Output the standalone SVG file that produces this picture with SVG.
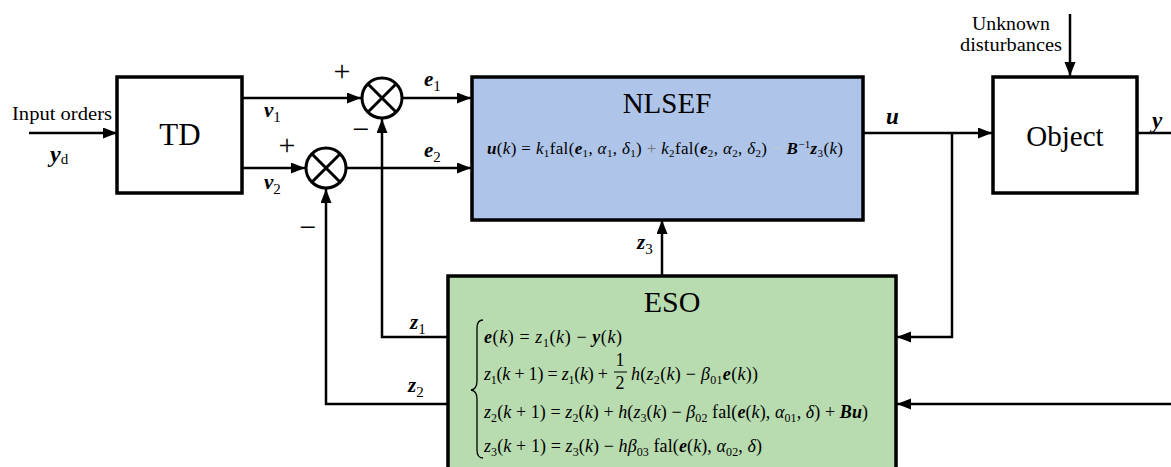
<svg xmlns="http://www.w3.org/2000/svg" width="1171" height="467" viewBox="0 0 1171 467" font-family="'Liberation Serif', 'Times New Roman', serif">
<style>
text{font-family:'Liberation Serif','Times New Roman',serif;fill:#000}
.box{stroke:#000;stroke-width:3.5}
.ln{fill:none;stroke:#000;stroke-width:2.5}
.sum{fill:#fff;stroke:#000;stroke-width:3}
.i{font-style:italic}
.bi{font-style:italic;font-weight:bold}
.lab{font-size:21px}
.eq{font-size:18px}
.s{font-size:12px}
.title{text-anchor:middle}
</style>
<defs>
<marker id="ar" markerUnits="userSpaceOnUse" markerWidth="15" markerHeight="12" refX="14" refY="5.5" orient="auto">
<path d="M0,0 L14,5.5 L0,11 z" fill="#000"/>
</marker>
</defs>
<rect width="1171" height="467" fill="#fff"/>

<g id="connectors">
<line class="ln" x1="29" y1="133" x2="117" y2="133" marker-end="url(#ar)"/>
<line class="ln" x1="242" y1="98" x2="361" y2="98" marker-end="url(#ar)"/>
<line class="ln" x1="242" y1="168" x2="305" y2="168" marker-end="url(#ar)"/>
<line class="ln" x1="403" y1="98" x2="471" y2="98" marker-end="url(#ar)"/>
<line class="ln" x1="347" y1="168" x2="471" y2="168" marker-end="url(#ar)"/>
<polyline class="ln" points="448,337 382,337 382,119" marker-end="url(#ar)"/>
<polyline class="ln" points="448,404 326,404 326,189" marker-end="url(#ar)"/>
<line class="ln" x1="662" y1="276" x2="662" y2="220" marker-end="url(#ar)"/>
<line class="ln" x1="863" y1="133" x2="992" y2="133" marker-end="url(#ar)"/>
<polyline class="ln" points="952,133 952,337 897,337" marker-end="url(#ar)"/>
<line class="ln" x1="1137" y1="133" x2="1171" y2="133"/>
<line class="ln" x1="1171" y1="404" x2="897" y2="404" marker-end="url(#ar)"/>
<line class="ln" x1="1070" y1="14" x2="1070" y2="76" marker-end="url(#ar)"/>
</g>

<g id="td">
<rect class="box" x="117" y="77" width="125" height="116" fill="#fff"/>
<text x="180" y="145" class="title" font-size="31">TD</text>
</g>

<g id="sum1">
<circle class="sum" cx="382" cy="98" r="20"/>
<path d="M368,84 L396,112 M396,84 L368,112" stroke="#000" stroke-width="3"/>
</g>
<g id="sum2">
<circle class="sum" cx="326" cy="168" r="20"/>
<path d="M312,154 L340,182 M340,154 L312,182" stroke="#000" stroke-width="3"/>
</g>

<g id="nlsef">
<rect class="box" x="472" y="77" width="391" height="143" fill="#aec4e9"/>
<text x="667" y="113" class="title" font-size="29">NLSEF</text>
<text x="487" y="154" font-size="17" textLength="356" lengthAdjust="spacing"><tspan class="bi">u</tspan>(<tspan class="i">k</tspan>) = <tspan class="i">k</tspan><tspan font-size="11" dy="3">1</tspan><tspan dy="-3">fal(</tspan><tspan class="bi">e</tspan><tspan font-size="11" dy="3">1</tspan><tspan dy="-3">, </tspan><tspan class="i">α</tspan><tspan font-size="11" dy="3">1</tspan><tspan dy="-3">, </tspan><tspan class="i">δ</tspan><tspan font-size="11" dy="3">1</tspan><tspan dy="-3">) </tspan><tspan fill="#777">+</tspan> <tspan class="i">k</tspan><tspan font-size="11" dy="3">2</tspan><tspan dy="-3">fal(</tspan><tspan class="bi">e</tspan><tspan font-size="11" dy="3">2</tspan><tspan dy="-3">, </tspan><tspan class="i">α</tspan><tspan font-size="11" dy="3">2</tspan><tspan dy="-3">, </tspan><tspan class="i">δ</tspan><tspan font-size="11" dy="3">2</tspan><tspan dy="-3">)  </tspan><tspan fill="#ccc">−</tspan>  <tspan class="bi">B</tspan><tspan font-size="11" dy="-6">−1</tspan><tspan class="bi" dy="6">z</tspan><tspan font-size="11" dy="3">3</tspan><tspan dy="-3">(</tspan><tspan class="i">k</tspan>)</text>
</g>

<g id="object">
<rect class="box" x="993" y="77" width="144" height="116" fill="#fff"/>
<text x="1065" y="146" class="title" font-size="29">Object</text>
</g>

<g id="eso">
<rect class="box" x="448" y="276" width="448" height="200" fill="#b8dcb0"/>
<text x="672" y="312" class="title" font-size="30">ESO</text>
<path d="M483,320 Q477,320 477,328 L477,381 Q477,389 471,390 Q477,391 477,399 L477,450 Q477,458 483,458" fill="none" stroke="#000" stroke-width="1.3"/>
<text x="484" y="343" class="eq" textLength="138" lengthAdjust="spacing"><tspan class="bi">e</tspan>(<tspan class="i">k</tspan>) = <tspan class="i">z</tspan><tspan class="s" dy="4">1</tspan><tspan dy="-4">(</tspan><tspan class="i">k</tspan>) − <tspan class="bi">y</tspan>(<tspan class="i">k</tspan>)</text>
<text x="484" y="380" class="eq" textLength="124" lengthAdjust="spacing"><tspan class="i">z</tspan><tspan class="s" dy="4">1</tspan><tspan dy="-4">(</tspan><tspan class="i">k</tspan> + 1) = <tspan class="i">z</tspan><tspan class="s" dy="4">1</tspan><tspan dy="-4">(</tspan><tspan class="i">k</tspan>) +</text>
<text x="620" y="366" class="eq" text-anchor="middle">1</text>
<line x1="614" y1="372" x2="627" y2="372" stroke="#000" stroke-width="1"/>
<text x="620" y="389" class="eq" text-anchor="middle">2</text>
<text x="631" y="380" class="eq" textLength="127" lengthAdjust="spacing"><tspan class="i">h</tspan>(<tspan class="i">z</tspan><tspan class="s" dy="4">2</tspan><tspan dy="-4">(</tspan><tspan class="i">k</tspan>) − <tspan class="i">β</tspan><tspan class="s" dy="4">01</tspan><tspan class="bi" dy="-4">e</tspan>(<tspan class="i">k</tspan>))</text>
<text x="484" y="418" class="eq" textLength="384" lengthAdjust="spacing"><tspan class="i">z</tspan><tspan class="s" dy="4">2</tspan><tspan dy="-4">(</tspan><tspan class="i">k</tspan> + 1) = <tspan class="i">z</tspan><tspan class="s" dy="4">2</tspan><tspan dy="-4">(</tspan><tspan class="i">k</tspan>) + <tspan class="i">h</tspan>(<tspan class="i">z</tspan><tspan class="s" dy="4">3</tspan><tspan dy="-4">(</tspan><tspan class="i">k</tspan>) − <tspan class="i">β</tspan><tspan class="s" dy="4">02</tspan><tspan dy="-4"> fal(</tspan><tspan class="bi">e</tspan>(<tspan class="i">k</tspan>), <tspan class="i">α</tspan><tspan class="s" dy="4">01</tspan><tspan dy="-4">, </tspan><tspan class="i">δ</tspan>) + <tspan class="bi">Bu</tspan>)</text>
<text x="484" y="452" class="eq" textLength="278" lengthAdjust="spacing"><tspan class="i">z</tspan><tspan class="s" dy="4">3</tspan><tspan dy="-4">(</tspan><tspan class="i">k</tspan> + 1) = <tspan class="i">z</tspan><tspan class="s" dy="4">3</tspan><tspan dy="-4">(</tspan><tspan class="i">k</tspan>) − <tspan class="i">hβ</tspan><tspan class="s" dy="4">03</tspan><tspan dy="-4"> fal(</tspan><tspan class="bi">e</tspan>(<tspan class="i">k</tspan>), <tspan class="i">α</tspan><tspan class="s" dy="4">02</tspan><tspan dy="-4">, </tspan><tspan class="i">δ</tspan>)</text>
</g>

<g id="labels">
<text x="12" y="120" font-size="18" textLength="100" lengthAdjust="spacingAndGlyphs">Input orders</text>
<text x="50" y="162" class="lab"><tspan class="bi" font-size="24">y</tspan><tspan font-size="15" dy="2">d</tspan></text>
<text x="264" y="117" class="lab"><tspan class="bi">v</tspan><tspan font-size="15" dy="5">1</tspan></text>
<text x="264" y="189" class="lab"><tspan class="bi">v</tspan><tspan font-size="15" dy="5">2</tspan></text>
<text x="424" y="86" class="lab"><tspan class="bi">e</tspan><tspan font-size="15" dy="5">1</tspan></text>
<text x="424" y="157" class="lab"><tspan class="bi">e</tspan><tspan font-size="15" dy="5">2</tspan></text>
<text x="342" y="81" font-size="30" text-anchor="middle">+</text>
<text x="361" y="139" font-size="30" text-anchor="middle">−</text>
<text x="287" y="155" font-size="30" text-anchor="middle">+</text>
<text x="308" y="237" font-size="30" text-anchor="middle">−</text>
<text x="637" y="249" class="lab"><tspan class="bi">z</tspan><tspan font-size="15" dy="5">3</tspan></text>
<text x="410" y="329" class="lab"><tspan class="bi">z</tspan><tspan font-size="15" dy="5">1</tspan></text>
<text x="408" y="392" class="lab"><tspan class="bi">z</tspan><tspan font-size="15" dy="5">2</tspan></text>
<text x="886" y="124" class="lab"><tspan class="bi" font-size="23">u</tspan></text>
<text x="1152" y="128" class="lab"><tspan class="bi" font-size="23">y</tspan></text>
<text x="1011" y="30" font-size="18" text-anchor="middle" textLength="78" lengthAdjust="spacingAndGlyphs">Unknown</text>
<text x="960" y="51" font-size="18" textLength="102" lengthAdjust="spacingAndGlyphs">disturbances</text>
</g>
</svg>
